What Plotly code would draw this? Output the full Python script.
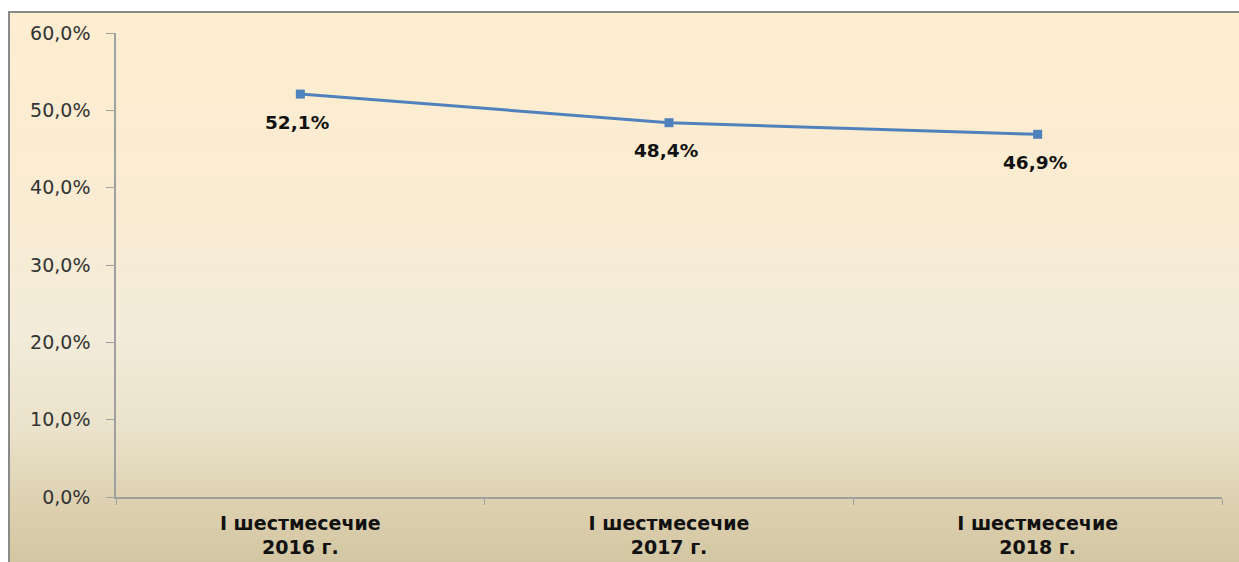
import plotly.graph_objects as go

categories = ["I шестмесечие<br>2016 г.", "I шестмесечие<br>2017 г.", "I шестмесечие<br>2018 г."]
values = [52.1, 48.4, 46.9]
labels = ["52,1%", "48,4%", "46,9%"]
y_ticks = [0, 10, 20, 30, 40, 50, 60]
y_tick_text = ["0,0%", "10,0%", "20,0%", "30,0%", "40,0%", "50,0%", "60,0%"]

# page body margin is removed in post_script, so figure coords = screen coords
W, H = 1239, 562
L, R, T, B = 116, 1222, 33, 497

def px_x(px):
    return (px - L) / (R - L)

def px_y(py):
    return (B - py) / (B - T)

stops = [(11, (254, 237, 208)), (200, (250, 236, 210)), (330, (243, 236, 218)),
         (430, (234, 226, 202)), (497, (222, 210, 178)), (562, (211, 198, 162))]

def col(py):
    for (y0, c0), (y1, c1) in zip(stops[:-1], stops[1:]):
        if y0 <= py <= y1:
            t = (py - y0) / (y1 - y0)
            return "rgb(%d,%d,%d)" % tuple(round(a + (b - a) * t) for a, b in zip(c0, c1))
    return "rgb(%d,%d,%d)" % stops[-1][1]

shapes = []
step = 4
py = 11
while py < 562:
    shapes.append(dict(type="rect", xref="paper", yref="paper",
                       x0=px_x(8), x1=px_x(1250), y0=px_y(min(py + step + 1, 570)), y1=px_y(py),
                       fillcolor=col(py + step / 2), line=dict(width=0), layer="below"))
    py += step
# frame
shapes.append(dict(type="line", xref="paper", yref="paper", x0=px_x(8), x1=px_x(1250),
                   y0=px_y(12), y1=px_y(12), line=dict(color="#8a8a8a", width=2), layer="below"))
shapes.append(dict(type="line", xref="paper", yref="paper", x0=px_x(9), x1=px_x(9),
                   y0=px_y(11), y1=px_y(570), line=dict(color="#8a8a8a", width=2), layer="below"))

fig = go.Figure()
fig.add_trace(go.Scatter(x=categories, y=values, mode="lines+markers",
                         line=dict(color="#4F81BD", width=3),
                         marker=dict(symbol="square", size=9, color="#4F81BD")))

annotations = [dict(x=c, y=v, text=t, showarrow=False, yshift=-28, xshift=-3,
                    font=dict(family="DejaVu Sans", size=18.5, color="#111111", weight="bold"))
               for c, v, t in zip(categories, values, labels)]

fig.update_layout(
    width=W, height=H,
    margin=dict(l=L, r=W - R, t=T, b=H - B, autoexpand=False),
    paper_bgcolor="white", plot_bgcolor="rgba(0,0,0,0)",
    showlegend=False, shapes=shapes, annotations=annotations,
    xaxis=dict(type="category", range=[-0.5, 2.5], showgrid=False, showline=True, automargin=False,
               linecolor="#a0a0a0", linewidth=1.5, ticks="outside", tickson="boundaries",
               ticklen=6, tickcolor="#a0a0a0", ticklabelstandoff=8,
               tickfont=dict(family="DejaVu Sans", size=19, color="#111111", weight="bold")),
    yaxis=dict(range=[0, 60], tickvals=y_ticks, ticktext=y_tick_text, showgrid=False, automargin=False,
               zeroline=False, showline=True, linecolor="#a0a0a0", linewidth=1.5,
               ticks="outside", ticklen=8, tickcolor="#a0a0a0", ticklabelstandoff=12,
               tickfont=dict(family="DejaVu Sans", size=19, color="#333333")),
)

fig.write_html("out.html", config={"displayModeBar": False},
               post_script="document.body.style.margin='0';document.documentElement.style.overflow='hidden';document.body.style.overflow='hidden';")
